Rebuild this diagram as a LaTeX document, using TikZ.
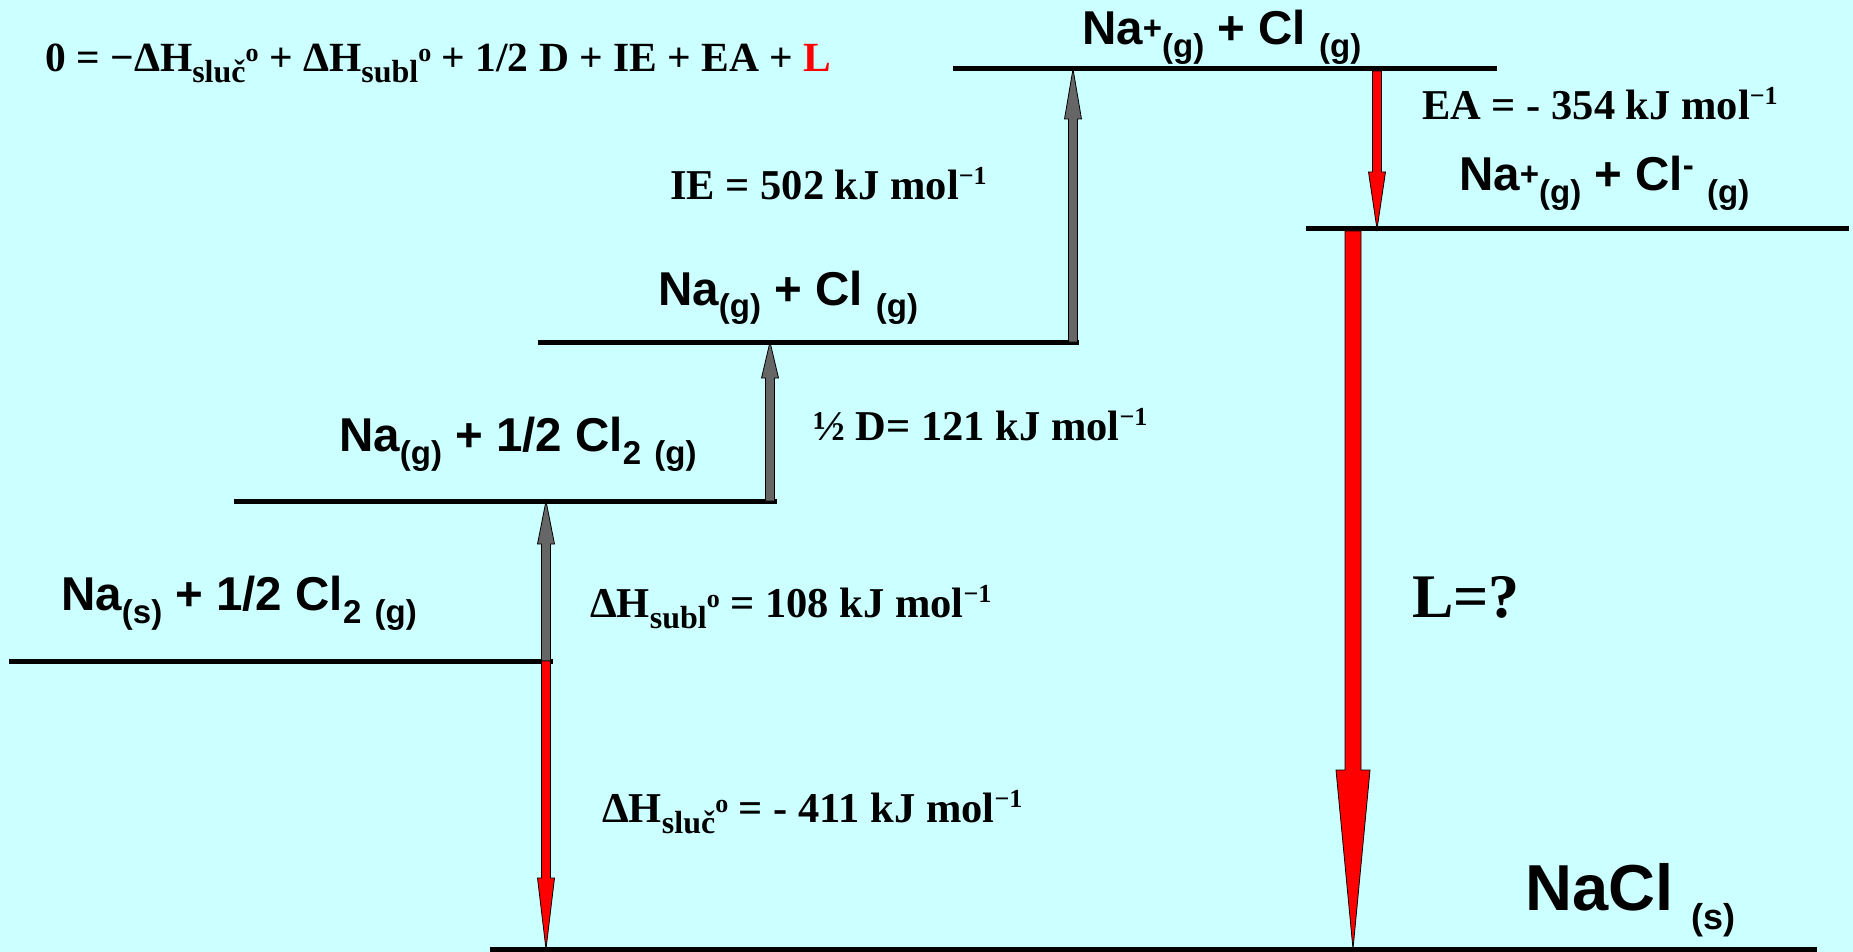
\documentclass[tikz,border=0pt]{standalone}
\usepackage{fontspec}
\setmainfont{Liberation Serif}
\newfontfamily\arialfont{Liberation Sans}
\usepackage{xcolor}
\usepackage{tikz}
\usetikzlibrary{calc}

\definecolor{slidebg}{RGB}{204,255,255}
\definecolor{arrgray}{RGB}{102,102,102}

% sub- and superscripts
\newcommand{\lsub}[1]{\raisebox{-13pt}{\fontsize{33}{33}\selectfont #1}}
\newcommand{\lsup}[2][5pt]{\raisebox{#1}{\fontsize{33}{33}\selectfont #2}}
\newcommand{\esub}[1]{\raisebox{-11pt}{\fontsize{32}{32}\selectfont #1}}
\newcommand{\esup}[2][10pt]{\raisebox{#1}{\fontsize{26}{26}\selectfont #2}}

% vertical block arrow: from, to, fill, shaft width, head width, head length
\newcommand{\energyarrow}[6]{%
  \filldraw[fill=#3, draw=black, line width=0.8pt]
    let \p1=(#1), \p2=(#2), \n1={ifthenelse(\y2>\y1,1,-1)} in
    (\x1-#4/2,\y1) -- (\x1-#4/2,\y2-\n1*#6) -- (\x1-#5/2,\y2-\n1*#6) -- (\x1,\y2)
    -- (\x1+#5/2,\y2-\n1*#6) -- (\x1+#4/2,\y2-\n1*#6) -- (\x1+#4/2,\y1) -- cycle;}

\begin{document}
\begin{tikzpicture}[
x=1pt, y=-1pt,
level/.style={line width=5pt},
species/.style={
    anchor=base west,
    inner sep=0pt,
    font=\arialfont\bfseries\fontsize{47.5}{47.5}\selectfont
},
energy/.style={
    anchor=base west,
    inner sep=0pt,
    font=\bfseries\fontsize{42.5}{42.5}\selectfont
}
]
\fill[slidebg] (0,0) rectangle (1853,952);
\useasboundingbox (0,0) rectangle (1853,952);

% energy levels
\coordinate (solid-w) at (9,661);    \coordinate (solid-e) at (553,661);
\coordinate (naGas-w) at (234,501);  \coordinate (naGas-e) at (777,501);
\coordinate (atoms-w) at (538,342);  \coordinate (atoms-e) at (1079,342);
\coordinate (cation-w) at (953,69);  \coordinate (cation-e) at (1497,69);
\coordinate (ions-w) at (1306,229);  \coordinate (ions-e) at (1849,229);
\coordinate (nacl-w) at (490,949);   \coordinate (nacl-e) at (1817,949);
\foreach \lv in {solid,naGas,atoms,cation,ions,nacl}
    \draw[level] (\lv-w) -- (\lv-e);

% arrow ends
\coordinate (subl-a) at (546,661);  \coordinate (subl-b) at (546,501);
\coordinate (sluc-b) at (546,949);
\coordinate (half-a) at (770,501);  \coordinate (half-b) at (770,342);
\coordinate (ie-a) at (1073,342);   \coordinate (ie-b) at (1073,69);
\coordinate (ea-a) at (1377,71);    \coordinate (ea-b) at (1377,229);
\coordinate (lat-a) at (1353,231);  \coordinate (lat-b) at (1353,949);

\energyarrow{subl-a}{subl-b}{arrgray}{9pt}{17pt}{43pt}
\energyarrow{subl-a}{sluc-b}{red}{9pt}{17pt}{71pt}
\energyarrow{half-a}{half-b}{arrgray}{9pt}{17pt}{36pt}
\energyarrow{ie-a}{ie-b}{arrgray}{9pt}{17pt}{50pt}
\energyarrow{ea-a}{ea-b}{red}{9pt}{17pt}{57pt}
\energyarrow{lat-a}{lat-b}{red}{16pt}{34pt}{179pt}

% species
\node[species] (solid) at (61,610) {Na\lsub{(s)} + 1/2 Cl\lsub{2} \lsub{(g)}};
\node[species] (naGas) at (339,451) {Na\lsub{(g)} + 1/2 Cl\lsub{2} \lsub{(g)}};
\node[species] (atoms) at (658,305) {Na\lsub{(g)} + Cl \lsub{(g)}};
\node[species] (cation) at (1082,45) {Na\lsup{+}\lsub{(g)} + Cl \lsub{(g)}};
\node[species] (ions) at (1459,191) {Na\lsup{+}\lsub{(g)} + Cl\lsup[14pt]{-} \lsub{(g)}};
\node[species, font=\arialfont\bfseries\fontsize{65}{65}\selectfont] (nacl) at (1525,910)
    {NaCl \raisebox{-19pt}{\fontsize{36}{36}\selectfont (s)}};

% energies
\node[energy, font=\bfseries\fontsize{41.5}{41.5}\selectfont] (cycle) at (45,72)
    {0 = −ΔH\esub{sluč}\esup{o} + ΔH\esub{subl}\esup{o} + 1/2 D + IE + EA + \textcolor{red}{L}};
\node[energy] (ie) at (670,200) {IE = 502 kJ mol\esup[15pt]{−1}};
\node[energy] (half) at (813,440) {½ D= 121 kJ mol\esup[15pt]{−1}};
\node[energy] (subl) at (590,617) {ΔH\esub{subl}\esup{o} = 108 kJ mol\esup[15pt]{−1}};
\node[energy] (sluc) at (602,822) {ΔH\esub{sluč}\esup{o} = - 411 kJ mol\esup[15pt]{−1}};
\node[energy] (ea) at (1422,120) {EA = - 354 kJ mol\esup[15pt]{−1}};
\node[energy, font=\bfseries\fontsize{62}{62}\selectfont] (lat) at (1412,617) {L=?};
\end{tikzpicture}
\end{document}
